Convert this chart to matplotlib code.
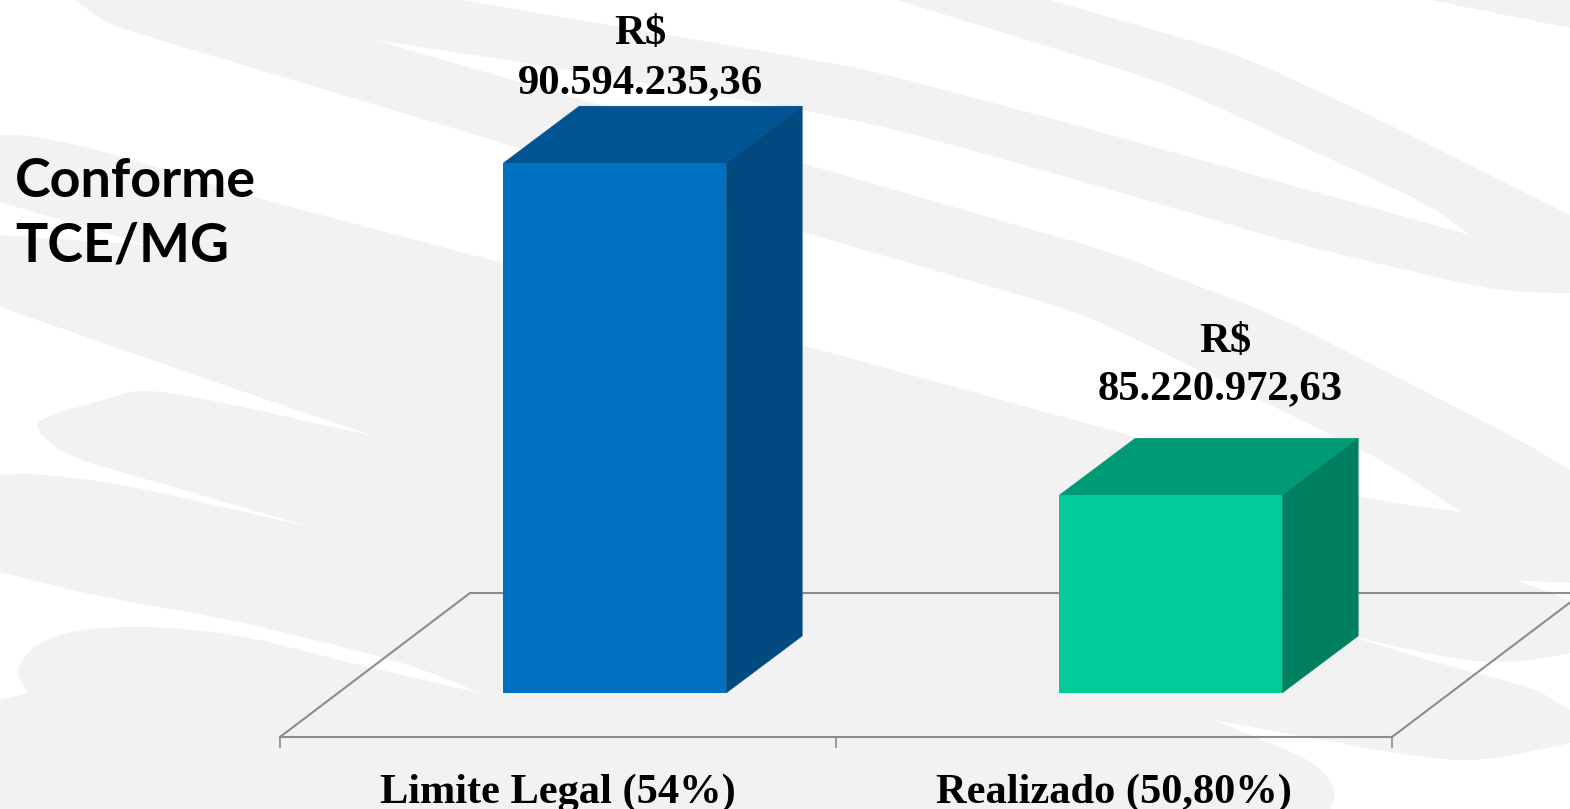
import matplotlib
matplotlib.use("Agg")
import math
import matplotlib.pyplot as plt
from matplotlib.patches import Polygon, PathPatch
from matplotlib.path import Path

categories = ["Limite Legal (54%)", "Realizado (50,80%)"]
values = [90594235.36, 85220972.63]
currency_labels = ["R$", "R$"]
value_labels = ["90.594.235,36", "85.220.972,63"]

W, H = 1570, 809
GRAY = "#f2f2f2"
AXIS = "#8c8c8c"
SERIF = "Liberation Serif"
FRONT = ["#0070c0", "#00cc99"]
TOP = ["#005494", "#009b75"]
SIDE = ["#004a80", "#008060"]

# Decorative watermark behind the chart (outline in image pixels)
BG_OUTLINE = [
    (75, 0), (463, 0), (861, 68), (1050, 118), (1470, 235), (1430, 205), (1170, 85),
    (1050, 47), (897, 0), (1050, 0), (1240, 55), (1380, 120), (1570, 215), (1570, 293),
    (1500, 292), (1300, 245), (1050, 172), (887, 127), (802, 110), (520, 62), (374, 40),
    (520, 82), (802, 163), (1050, 235), (1105, 250), (1281, 318), (1520, 440), (1570, 470),
    (1570, 583), (1515, 580), (1570, 600), (1570, 653), (1523, 662), (1467, 662), (1350, 636),
    (1450, 667), (1533, 687), (1570, 710), (1570, 743), (1483, 762), (1417, 757), (1283, 733),
    (1213, 720), (1263, 740), (1317, 763), (1337, 790), (1330, 809), (0, 809), (0, 700),
    (28, 693), (13, 667), (50, 633), (133, 625), (233, 633), (367, 667), (480, 693),
    (433, 673), (383, 657), (233, 620), (100, 597), (0, 572), (0, 475), (33, 473), (117, 483),
    (310, 527), (167, 485), (67, 457), (35, 430), (40, 418), (103, 400), (140, 388), (213, 400),
    (377, 437), (267, 400), (0, 307), (0, 235), (147, 245), (0, 202), (0, 135), (30, 135),
    (100, 150), (253, 197), (503, 263), (802, 345), (1136, 437), (1358, 498), (1461, 512),
    (1383, 460), (1082, 313), (802, 232), (503, 143), (110, 25), (95, 15),
]
BG_SHARP = {(1470, 235), (374, 40), (1515, 580), (1350, 636), (1213, 720), (480, 693), (310, 527),
            (377, 437), (147, 245), (1461, 512), (28, 693), (103, 400)}
TOP_RIGHT_CORNER = [(1430, 0), (1570, 0), (1570, 28)]


def rounded_path(points, sharp, radius=45):
    verts, codes = [], []
    n = len(points)
    for i, p in enumerate(points):
        prev, nxt = points[i - 1], points[(i + 1) % n]
        is_sharp = p in sharp or p[0] in (0, W) or p[1] in (0, H)
        if is_sharp:
            verts.append(p)
            codes.append(Path.LINETO if i else Path.MOVETO)
            continue
        def toward(q):
            d = math.hypot(q[0] - p[0], q[1] - p[1])
            t = min(radius, d / 2) / d
            return (p[0] + (q[0] - p[0]) * t, p[1] + (q[1] - p[1]) * t)
        verts += [toward(prev), p, toward(nxt)]
        codes += [Path.LINETO, Path.CURVE3, Path.CURVE3]
    verts.append(points[0])
    codes.append(Path.CLOSEPOLY)
    return Path(verts, codes)


fig = plt.figure(figsize=(W / 100, H / 100), dpi=100, facecolor="white")

bg = fig.add_axes([0, 0, 1, 1], zorder=0)
bg.set_xlim(0, W)
bg.set_ylim(H, 0)
bg.axis("off")
bg.add_patch(PathPatch(rounded_path(BG_OUTLINE, BG_SHARP), fc=GRAY, ec="none"))
bg.add_patch(Polygon(TOP_RIGHT_CORNER, closed=True, fc=GRAY, ec="none"))

# Plot axes: bottom spine is the front edge of the floor
PX_LEFT, PX_RIGHT, PX_BOTTOM, PX_TOP = 280, 1392, 737, 37
ax = fig.add_axes([PX_LEFT / W, 1 - PX_BOTTOM / H, (PX_RIGHT - PX_LEFT) / W, (PX_BOTTOM - PX_TOP) / H], zorder=1)
ax.patch.set_alpha(0)

PX_PER_VALUE = 61.8e-6
BASE = 82.02e6
FLOOR = BASE - 44 / PX_PER_VALUE
ax.set_xlim(0, 2)
ax.set_ylim(FLOOR, FLOOR + (PX_BOTTOM - PX_TOP) / PX_PER_VALUE)

UX = (PX_RIGHT - PX_LEFT) / 2
bar_shift = 0.102
bar_w = 223 / UX
depth_x = 76 / UX
depth_y = 57 / PX_PER_VALUE
floor_dx = 190 / UX
floor_dy = 144 / PX_PER_VALUE

# Floor outline
kw = dict(color=AXIS, lw=1.5, clip_on=False, zorder=1, solid_capstyle="butt")
ax.plot([0, floor_dx, 2 + 200 / UX], [FLOOR, FLOOR + floor_dy, FLOOR + floor_dy], **kw)
ax.plot([2, 2 + 180 / UX], [FLOOR, FLOOR + 136 / PX_PER_VALUE], **kw)

currency_offsets = [(26, 119), (55, 143.5)]
value_offsets = [(26, 70), (49, 95.5)]
text_kw = dict(textcoords="offset pixels", ha="center", va="baseline", fontsize=30.7, fontweight="bold",
               family=SERIF, color="black", zorder=5, annotation_clip=False)

for i, v in enumerate(values):
    xc = i + 0.5 + bar_shift
    l, r = xc - bar_w / 2, xc + bar_w / 2
    ax.bar(xc, v - BASE, bottom=BASE, width=bar_w, color=FRONT[i], zorder=3, linewidth=0)
    ax.add_patch(Polygon([(l, v), (r, v), (r + depth_x, v + depth_y), (l + depth_x, v + depth_y)],
                         closed=True, fc=TOP[i], ec=TOP[i], lw=0.3, zorder=2))
    ax.add_patch(Polygon([(r, BASE), (r, v), (r + depth_x, v + depth_y), (r + depth_x, BASE + depth_y)],
                         closed=True, fc=SIDE[i], ec=SIDE[i], lw=0.3, zorder=2))
    ax.annotate(currency_labels[i], xy=(xc, v), xytext=currency_offsets[i], **text_kw)
    ax.annotate(value_labels[i], xy=(xc, v), xytext=value_offsets[i], **text_kw)

for s in ["left", "right", "top"]:
    ax.spines[s].set_visible(False)
ax.spines["bottom"].set_color(AXIS)
ax.spines["bottom"].set_linewidth(1.5)
ax.set_yticks([])
ax.set_xticks([0, 1, 2])
ax.set_xticklabels([])
ax.tick_params(axis="x", which="major", length=8, width=1.2, color=AXIS)
ax.set_xticks([0.5, 1.5], minor=True)
ax.set_xticklabels(categories, minor=True, fontsize=30.5, fontweight="bold", family=SERIF, color="black")
ax.tick_params(axis="x", which="minor", length=0, pad=26)

fig.text(15 / W, 1 - 197 / H, "Conforme", fontsize=38.8, fontweight="bold", family="Lato", color="black")
fig.text(15 / W, 1 - 262 / H, "TCE/MG", fontsize=38.8, fontweight="bold", family="Lato", color="black")

fig.savefig("out.png", dpi=100, facecolor="white")
